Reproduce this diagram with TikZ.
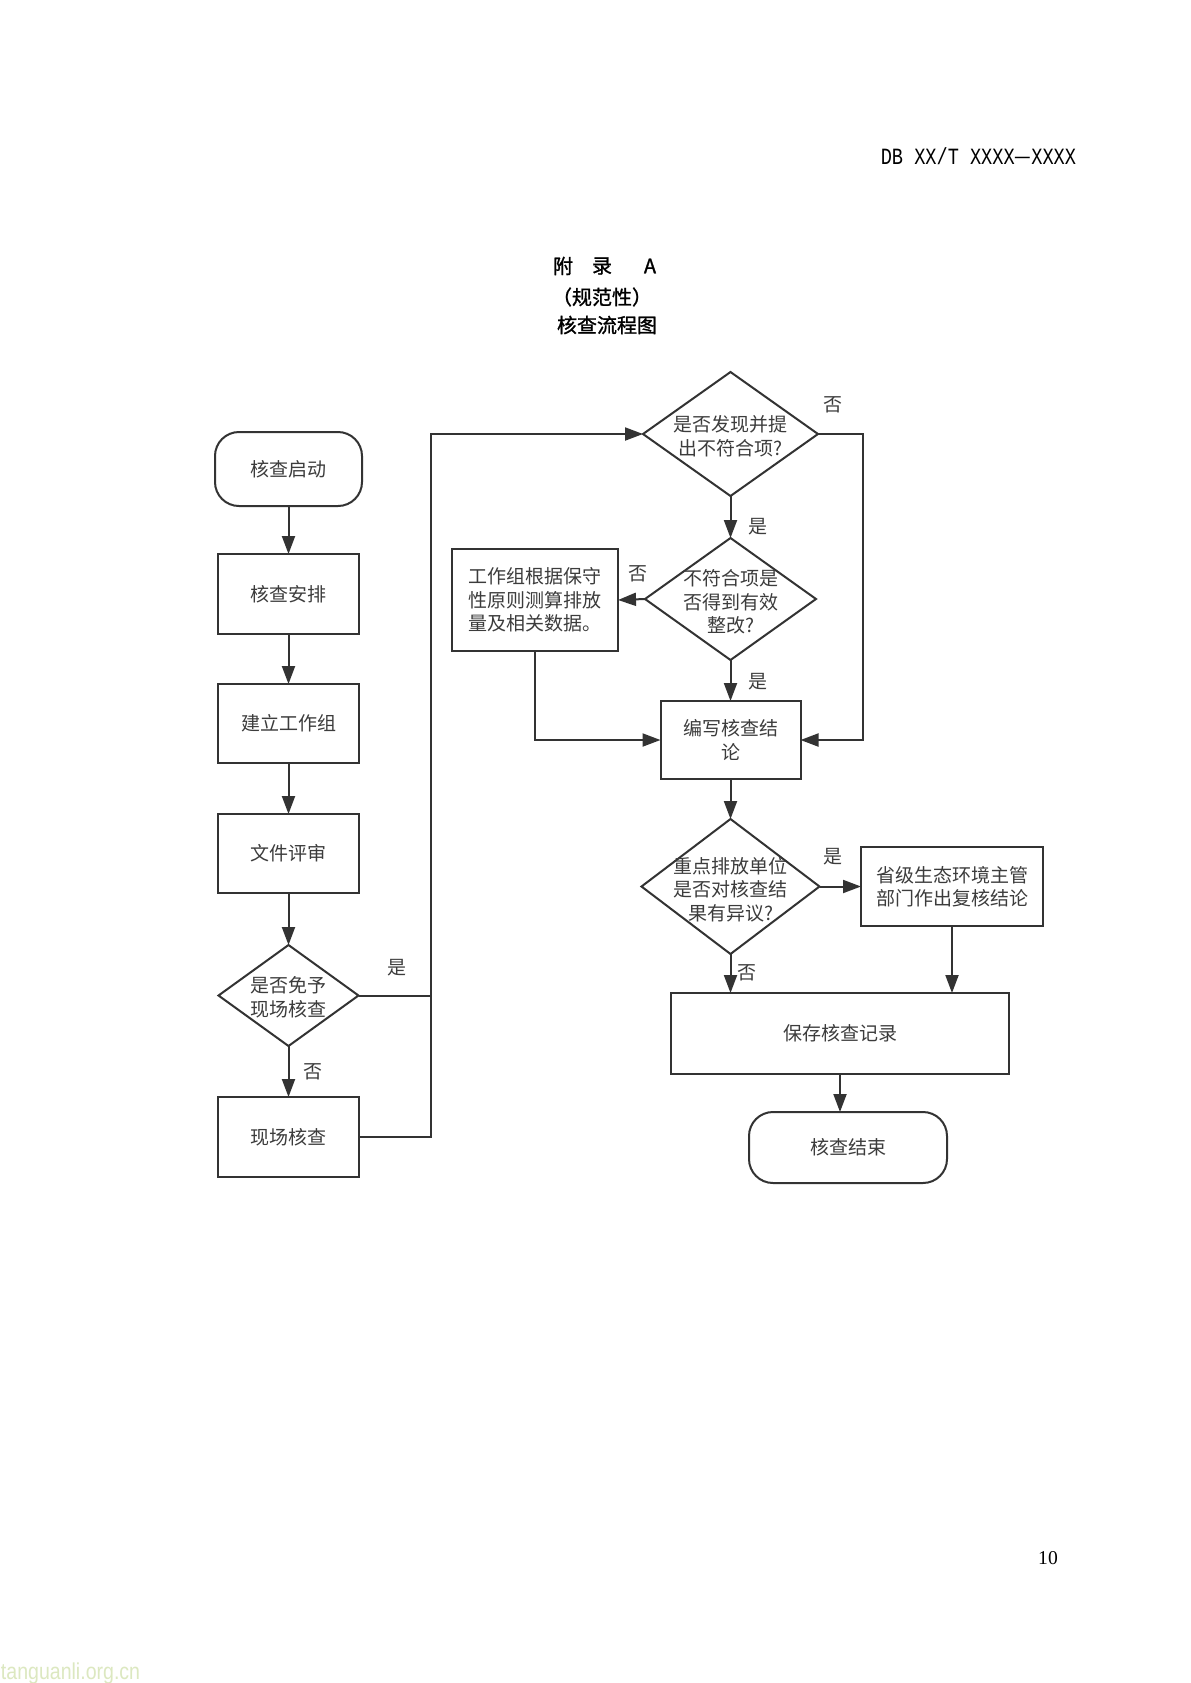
\documentclass[tikz,border=0pt]{standalone}
\usepackage{fontspec}
\usetikzlibrary{arrows.meta,shapes.geometric}
\newfontfamily\cjk{Noto Sans CJK SC}
\newfontfamily\cjkm[FakeBold=1.2]{Noto Sans CJK SC}
\newfontfamily\hmono{Liberation Mono}
\newfontfamily\pgserif{Liberation Serif}
\newfontfamily\wmsans{Liberation Sans}
\definecolor{ln}{HTML}{333333}
\definecolor{tx}{HTML}{3C3C3C}
\definecolor{wm}{HTML}{DCE8C0}
\begin{document}
\begin{tikzpicture}[x=0.5pt,y=-0.5pt,
  every node/.style={inner sep=0pt, outer sep=0pt},
  nfont/.style={font=\cjk\fontsize{9.5pt}{11.75pt}\selectfont},
  box/.style={draw=ln, line width=1pt, text=tx, nfont, align=center, rectangle},
  term/.style={box, rounded corners=12pt},
  dia/.style={draw=ln, line width=1pt, diamond},
  txt/.style={text=tx, nfont, align=center},
  lbl/.style={text=tx, nfont},
  arr/.style={draw=ln, line width=1pt, -{Triangle[length=9pt,width=6.5pt]}},
  con/.style={draw=ln, line width=1pt},
  ttl/.style={text=black, font=\cjkm\fontsize{10pt}{12pt}\selectfont}]
\useasboundingbox (0,0) rectangle (1190,1683);
\fill[white] (0,0) rectangle (1190,1683);

% header, title, page number, watermark
\node[anchor=east, yscale=1.25] (hdr) at (1076,156) {\fontsize{9.3pt}{11pt}\selectfont\hmono DB XX/T XXXX{\cjk —}XXXX};
\node[ttl] (t1a) at (563,266) {附};
\node[ttl] (t1b) at (602,266) {录};
\node[ttl] (t1c) at (650,266) {A};
\node[ttl] (t2) at (602,297) {（规范性）};
\node[ttl] (t3) at (607,325) {核查流程图};
\node[font=\pgserif\fontsize{9.8pt}{11pt}\selectfont] (pg) at (1048,1558) {10};
\node[anchor=west, text=wm, xscale=0.85, font=\wmsans\fontsize{11.5pt}{13pt}\selectfont] (wmk) at (1,1674) {tanguanli.org.cn};

% left column
\node[term, minimum width=73.5pt, minimum height=37pt] (start) at (288.5,469) {核查启动};
\node[box, minimum width=70.5pt, minimum height=40pt] (arrange) at (288.5,594) {核查安排};
\node[box, minimum width=70.5pt, minimum height=39.5pt] (group) at (288.5,723.5) {建立工作组};
\node[box, minimum width=70.5pt, minimum height=39.5pt] (review) at (288.5,853.5) {文件评审};
\node[dia, minimum width=70pt, minimum height=50.5pt] (d0) at (288.5,995.5) {};
\node[txt] (d0t) at (288.5,997.5) {是否免予\\现场核查};
\node[box, minimum width=70.5pt, minimum height=40pt] (onsite) at (288.5,1137) {现场核查};

% right part
\node[dia, minimum width=87.5pt, minimum height=62pt] (d1) at (730.5,434) {};
\node[txt] (d1t) at (730.5,436) {是否发现并提\\出不符合项?};
\node[dia, minimum width=85.5pt, minimum height=61pt] (d2) at (730.5,599) {};
\node[txt] (d2t) at (730.5,602) {不符合项是\\否得到有效\\整改?};
\node[box, minimum width=83pt, minimum height=51pt] (calc) at (535,600) {工作组根据保守\\性原则测算排放\\量及相关数据。};
\node[box, minimum width=70pt, minimum height=39pt] (write) at (730.5,740) {编写核查结\\论};
\node[dia, minimum width=89pt, minimum height=67.5pt] (d3) at (730.5,886.5) {};
\node[txt] (d3t) at (730.5,889.5) {重点排放单位\\是否对核查结\\果有异议?};
\node[box, minimum width=91pt, minimum height=39.5pt] (prov) at (952,886.5) {省级生态环境主管\\部门作出复核结论};
\node[box, minimum width=169pt, minimum height=40.5pt] (save) at (840,1033.5) {保存核查记录};
\node[term, minimum width=99pt, minimum height=35.5pt] (end) at (848,1147.5) {核查结束};

\coordinate (lt) at (431,434);
\coordinate (r1) at (863,434);

% connectors
\draw[arr] (start) -- (arrange);
\draw[arr] (arrange) -- (group);
\draw[arr] (group) -- (review);
\draw[arr] (review) -- (d0.north);
\draw[arr] (d0.south) -- (onsite);
\node[lbl] (l0n) at (313,1072) {否};
\draw[con] (d0.east) -- (d0.east -| lt);
\node[lbl] (l0y) at (397,968) {是};
\draw[arr] (onsite.east) -- (onsite.east -| lt) -- (lt) -- (d1.west);

\draw[arr] (d1.south) -- (d2.north);
\node[lbl] (l1y) at (758,527) {是};
\draw[arr] (d1.east) -- (r1) |- (write.east);
\node[lbl] (l1n) at (833,405) {否};
\draw[arr] (d2.west) -- (calc.east);
\node[lbl] (l2n) at (638,574) {否};
\draw[arr] (d2.south) -- (write.north);
\node[lbl] (l2y) at (758,682) {是};
\draw[arr] (calc.south) |- (write.west);
\draw[arr] (write.south) -- (d3.north);
\draw[arr] (d3.east) -- (prov.west);
\node[lbl] (l3y) at (833,857) {是};
\draw[arr] (d3.south) -- (d3.south |- save.north);
\node[lbl] (l3n) at (747,973) {否};
\draw[arr] (prov.south) -- (prov.south |- save.north);
\draw[arr] (save.south) -- (save.south |- end.north);
\end{tikzpicture}
\end{document}
